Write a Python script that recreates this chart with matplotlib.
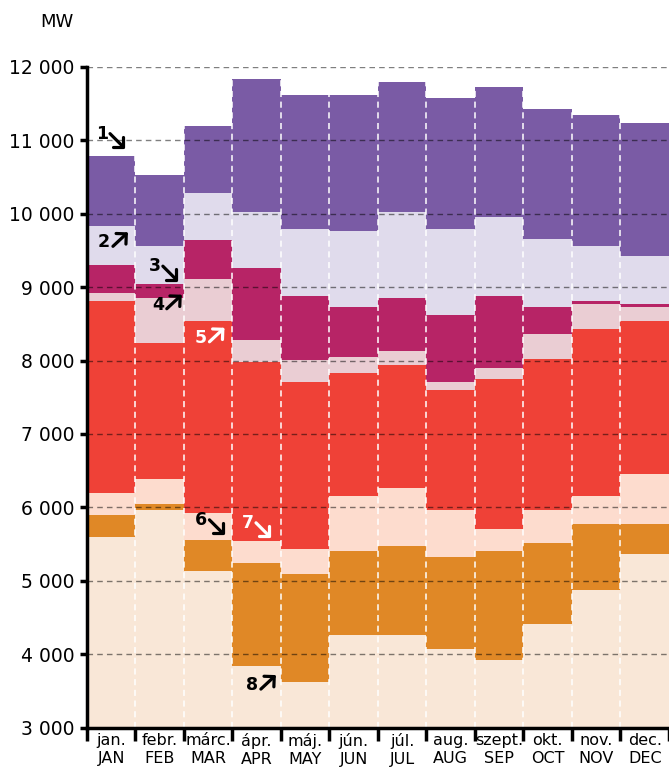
import matplotlib
matplotlib.use("Agg")
import matplotlib.pyplot as plt
from matplotlib.transforms import offset_copy
import numpy as np

months_hu = ["jan.", "febr.", "márc.", "ápr.", "máj.", "jún.", "júl.", "aug.", "szept.", "okt.", "nov.", "dec."]
months_en = ["JAN", "FEB", "MAR", "APR", "MAY", "JUN", "JUL", "AUG", "SEP", "OCT", "NOV", "DEC"]

# layer heights in MW, bottom to top
beige = [5590, 5970, 5130, 3840, 3620, 4260, 4260, 4070, 3920, 4410, 4870, 5360]
orange = [300, 70, 420, 1400, 1470, 1140, 1210, 1250, 1480, 1100, 900, 410]
peach = [300, 350, 380, 300, 340, 750, 800, 650, 300, 460, 380, 680]
red = [2620, 1850, 2610, 2440, 2280, 1680, 1670, 1630, 2050, 2050, 2280, 2090]
light_pink = [110, 610, 570, 300, 300, 220, 190, 110, 150, 340, 340, 190]
magenta = [380, 190, 530, 980, 870, 680, 720, 910, 980, 370, 40, 40]
lavender = [530, 520, 640, 760, 910, 1030, 1170, 1170, 1070, 920, 750, 650]
purple = [950, 960, 920, 1820, 1820, 1850, 1780, 1790, 1780, 1770, 1790, 1810]

layers = [
    (beige, "#F9E7D7"),
    (orange, "#E08826"),
    (peach, "#FDDCCE"),
    (red, "#EF4137"),
    (light_pink, "#EACDD3"),
    (magenta, "#B72466"),
    (lavender, "#E0DBEC"),
    (purple, "#7A5BA5"),
]

# numbered markers: (label, x, y of the digit, colour, arrow direction)
markers = [
    ("1", -0.19, 11090, "black", "down"),
    ("2", -0.15, 9610, "black", "up"),
    ("3", 0.90, 9285, "black", "down"),
    ("4", 0.96, 8760, "black", "up"),
    ("5", 1.84, 8310, "white", "up"),
    ("6", 1.86, 5830, "black", "down"),
    ("7", 2.82, 5790, "white", "down"),
    ("8", 2.90, 3580, "black", "up"),
]

fig = plt.figure(figsize=(6.69, 7.77), dpi=100)
ax = fig.add_axes([0.130, 0.0635, 0.870, 0.8505])

x = np.arange(len(months_en))
bottom = np.zeros(len(x))
for vals, col in layers:
    ax.bar(x, vals, bottom=bottom, width=1.0, color=col, linewidth=0, zorder=2)
    bottom += np.array(vals)

ax.set_xlim(-0.5, 11.5)
ax.set_ylim(3000, 12000)

yt = np.arange(3000, 12001, 1000)
ax.set_yticks(yt)
ax.set_yticklabels([f"{v:,}".replace(",", " ") for v in yt], fontsize=13.5)
for v in yt[1:]:
    ax.axhline(v, color="black", alpha=0.5, lw=1.0, ls=(0, (4, 3)), zorder=3)

for b in np.arange(0.5, 11.5, 1.0):
    ax.axvline(b, color="white", lw=1.1, ls=(0, (4, 3)), zorder=3)

ax.set_xticks(np.arange(-0.5, 12.0, 1.0))
ax.set_xticklabels([])
ax.set_xticks(x, minor=True)
ax.set_xticklabels([f"{h}\n{e}" for h, e in zip(months_hu, months_en)], minor=True,
                   fontsize=11.5, linespacing=1.2)
ax.tick_params(axis="x", which="major", length=9, width=2.5, direction="out")
ax.tick_params(axis="x", which="minor", length=0, pad=4)
ax.tick_params(axis="y", length=5, width=2.5, direction="out", pad=4)

for s in ["top", "right"]:
    ax.spines[s].set_visible(False)
for s in ["left", "bottom"]:
    ax.spines[s].set_linewidth(2.5)
    ax.spines[s].set_zorder(4)

for lab, mx, my, col, direction in markers:
    ax.text(mx, my, lab, color=col, fontsize=12.5, fontweight="bold",
            ha="center", va="center", zorder=5)
    if direction == "down":
        tail, head = (8, 0), (23, -15)
    else:
        tail, head = (9, -4), (24, 10)
    tr_tail = offset_copy(ax.transData, fig=fig, x=tail[0], y=tail[1], units="dots")
    tr_head = offset_copy(ax.transData, fig=fig, x=head[0], y=head[1], units="dots")
    ax.annotate("", xy=(mx, my), xycoords=tr_head, xytext=(mx, my), textcoords=tr_tail,
                arrowprops=dict(arrowstyle="->,head_length=0.4,head_width=0.4",
                                mutation_scale=13, lw=2.3, color=col,
                                shrinkA=0, shrinkB=0),
                zorder=5)

fig.text(0.085, 0.972, "MW", fontsize=13, ha="center", va="center")

fig.savefig("out.png", dpi=100)
